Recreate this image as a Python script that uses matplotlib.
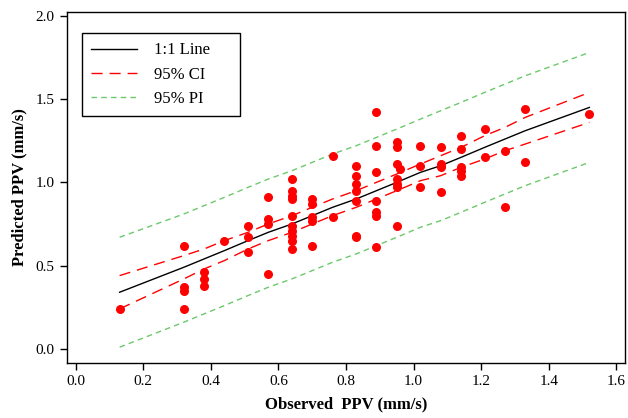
import matplotlib
matplotlib.use("Agg")
import matplotlib.pyplot as plt

# observed vs predicted PPV (mm/s)
observed = [0.13, 0.32, 0.32, 0.32, 0.32, 0.38, 0.38, 0.38, 0.44,
            0.51, 0.51, 0.51, 0.57, 0.57, 0.57, 0.57,
            0.64, 0.64, 0.64, 0.64, 0.64, 0.64, 0.64, 0.64, 0.64, 0.64,
            0.70, 0.70, 0.70, 0.70, 0.70, 0.76, 0.76,
            0.83, 0.83, 0.83, 0.83, 0.83, 0.83, 0.83,
            0.89, 0.89, 0.89, 0.89, 0.89, 0.89, 0.89,
            0.95, 0.95, 0.95, 0.96, 0.95, 0.95, 0.95, 0.95,
            1.02, 1.02, 1.02, 1.08, 1.08, 1.08, 1.08,
            1.14, 1.14, 1.14, 1.14, 1.14, 1.21, 1.21, 1.27, 1.27,
            1.33, 1.33, 1.52]
predicted = [0.24, 0.62, 0.37, 0.35, 0.24, 0.46, 0.42, 0.38, 0.65,
             0.74, 0.67, 0.58, 0.91, 0.78, 0.75, 0.45,
             1.02, 0.95, 0.92, 0.90, 0.80, 0.74, 0.71, 0.68, 0.65, 0.60,
             0.90, 0.87, 0.79, 0.77, 0.62, 1.16, 0.79,
             1.10, 1.04, 0.99, 0.95, 0.89, 0.68, 0.67,
             1.42, 1.22, 1.06, 0.89, 0.82, 0.80, 0.61,
             1.24, 1.21, 1.11, 1.08, 1.02, 0.99, 0.97, 0.74,
             1.22, 1.10, 0.97, 1.21, 1.11, 1.09, 0.94,
             1.28, 1.20, 1.09, 1.07, 1.04, 1.32, 1.15, 1.19, 0.85,
             1.44, 1.12, 1.41]

# fitted line with confidence / prediction bands
fit_x = [0.13, 0.32, 0.38, 0.44, 0.51, 0.57, 0.64, 0.70, 0.76, 0.83,
         0.89, 0.95, 1.02, 1.08, 1.14, 1.21, 1.27, 1.33, 1.52]
fit_y = [0.34, 0.49, 0.54, 0.59, 0.65, 0.70, 0.75, 0.80, 0.85, 0.90,
         0.95, 1.00, 1.06, 1.10, 1.15, 1.21, 1.26, 1.31, 1.45]
ci_upper = [0.44, 0.56, 0.60, 0.65, 0.70, 0.75, 0.80, 0.85, 0.90, 0.95,
            1.00, 1.05, 1.11, 1.16, 1.21, 1.28, 1.33, 1.39, 1.54]
ci_lower = [0.24, 0.42, 0.48, 0.53, 0.60, 0.65, 0.70, 0.75, 0.80, 0.85,
            0.90, 0.95, 1.01, 1.04, 1.09, 1.14, 1.19, 1.23, 1.36]
pi_upper = [0.67, 0.81, 0.86, 0.91, 0.97, 1.02, 1.07, 1.12, 1.17, 1.22,
            1.27, 1.32, 1.38, 1.43, 1.48, 1.54, 1.59, 1.64, 1.78]
pi_lower = [0.01, 0.16, 0.21, 0.26, 0.32, 0.37, 0.42, 0.47, 0.52, 0.57,
            0.62, 0.67, 0.73, 0.77, 0.82, 0.88, 0.93, 0.98, 1.12]

plt.rcParams['font.family'] = ['Liberation Serif', 'DejaVu Serif']

fig = plt.figure(figsize=(6.28, 4.18), dpi=100)
ax = fig.add_axes([0.106, 0.132, 0.889, 0.840])

ax.plot(fit_x, fit_y, color='black', lw=1.0, label='1:1 Line')
ax.plot(fit_x, ci_upper, color='red', lw=1.0, dashes=(8, 5), label='95% CI')
ax.plot(fit_x, ci_lower, color='red', lw=1.0, dashes=(8, 5))
ax.plot(fit_x, pi_upper, color='#6cc96c', lw=1.0, dashes=(4, 3), label='95% PI')
ax.plot(fit_x, pi_lower, color='#6cc96c', lw=1.0, dashes=(4, 3))
ax.scatter(observed, predicted, s=30, color='red', zorder=3)

ax.set_xlim(-0.027, 1.625)
ax.set_ylim(-0.084, 2.025)
ax.set_xticks([0.0, 0.2, 0.4, 0.6, 0.8, 1.0, 1.2, 1.4, 1.6])
ax.set_yticks([0.0, 0.5, 1.0, 1.5, 2.0])
ax.xaxis.set_major_formatter(matplotlib.ticker.FormatStrFormatter('%.1f'))
ax.yaxis.set_major_formatter(matplotlib.ticker.FormatStrFormatter('%.1f'))
ax.tick_params(direction='out', length=5, width=1, labelsize=11)
for s in ax.spines.values():
    s.set_linewidth(1.0)

ax.set_xlabel('Observed  PPV (mm/s)', fontsize=12, fontweight='bold', labelpad=6)
ax.set_ylabel('Predicted PPV (mm/s)', fontsize=12, fontweight='bold', labelpad=6)

# legend box stretched to the reference width
leg = ax.legend(loc='upper left', bbox_to_anchor=(0.027, 0.6, 0.283, 0.3385),
                mode='expand', fontsize=12, handlelength=2.8, handletextpad=1.0,
                borderaxespad=0, borderpad=0.55, fancybox=False, framealpha=1,
                edgecolor='black')
leg.get_frame().set_linewidth(1.0)

fig.savefig('out.png', dpi=100)
